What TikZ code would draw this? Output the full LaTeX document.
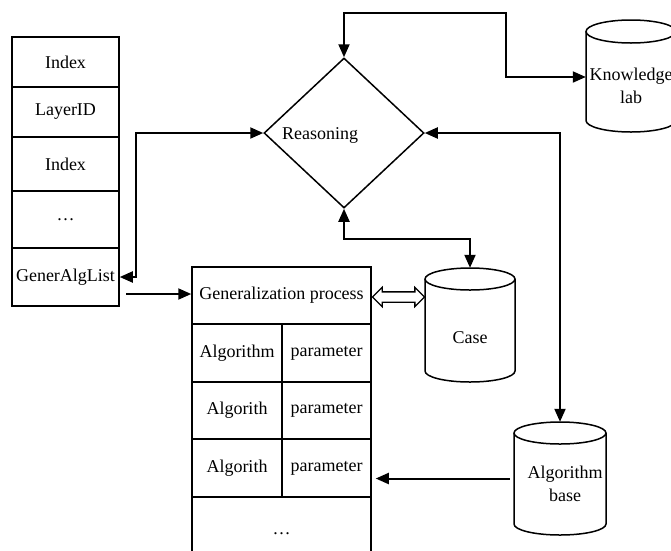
\documentclass[tikz,border=0pt]{standalone}
\usepackage{fontspec}
\setmainfont{Liberation Serif}
\usetikzlibrary{arrows.meta,shapes.geometric,shapes.arrows}
\tikzset{
  border/.style={draw=black, line width=1.5pt},
  cell/.style={border, rectangle, inner sep=0pt, font=\fontsize{18}{23}\selectfont},
  conn/.style={draw=black, line width=2pt, >={Triangle[length=13pt,width=11pt]}},
  txt/.style={inner sep=0pt, font=\fontsize{18}{23}\selectfont, align=center},
  ghost/.style={inner sep=0pt, rectangle},
}
\begin{document}
\begin{tikzpicture}[x=1pt,y=-1pt]
\useasboundingbox (0,0) rectangle (671,550);
\clip (0,0) rectangle (671,550);
\fill[white] (0,0) rectangle (671,550);

% left column
\node[cell, minimum width=107pt, minimum height=50pt] (idx1) at (65.5,62) {Index};
\node[cell, minimum width=107pt, minimum height=50pt] (lay) at (65.5,112) {LayerID};
\node[cell, minimum width=107pt, minimum height=54pt] (idx2) at (65.5,164) {Index};
\node[cell, minimum width=107pt, minimum height=57pt] (dots1) at (65.5,219.5) {…};
\node[cell, minimum width=107pt, minimum height=58pt] (gal) at (65.5,277) {GenerAlgList};

% reasoning diamond
\node[diamond, border, minimum width=160pt, minimum height=150pt, inner sep=0pt] (R) at (344,133) {};
\node[txt] (Rt) at (320,135) {Reasoning};

% generalization table
\node[cell, minimum width=179pt, minimum height=57pt] (gp) at (281.5,295.5) {Generalization process};
\node[cell, minimum width=90pt, minimum height=58pt] (a1) at (237,353) {Algorithm};
\node[cell, minimum width=89pt, minimum height=58pt] (p1) at (326.5,353) {parameter};
\node[cell, minimum width=90pt, minimum height=57pt] (a2) at (237,410.5) {Algorith};
\node[cell, minimum width=89pt, minimum height=57pt] (p2) at (326.5,410.5) {parameter};
\node[cell, minimum width=90pt, minimum height=58pt] (a3) at (237,468) {Algorith};
\node[cell, minimum width=89pt, minimum height=58pt] (p3) at (326.5,468) {parameter};
\node[cell, minimum width=179pt, minimum height=73pt] (dots2) at (281.5,533.5) {…};

% Knowledge lab cylinder
\node[ghost, minimum width=90pt, minimum height=112pt] (kl) at (631,76) {};
\draw[border] (586,31.5) -- (586,120.5) arc[start angle=180, end angle=360, x radius=45pt, y radius=11.5pt] -- (676,31.5);
\draw[border] (631,31.5) ellipse[x radius=45pt, y radius=11.5pt];
\node[txt] (klt) at (631,86) {Knowledge\\lab};

% Case cylinder
\node[ghost, minimum width=90pt, minimum height=114pt] (case) at (470,325) {};
\draw[border] (425,279) -- (425,371) arc[start angle=180, end angle=360, x radius=45pt, y radius=11pt] -- (515,279);
\draw[border] (470,279) ellipse[x radius=45pt, y radius=11pt];
\node[txt] (caset) at (470,338) {Case};

% Algorithm base cylinder
\node[ghost, minimum width=92pt, minimum height=113pt] (alg) at (560,478.5) {};
\draw[border] (514,433) -- (514,524) arc[start angle=180, end angle=360, x radius=46pt, y radius=11pt] -- (606,433);
\draw[border] (560,433) ellipse[x radius=46pt, y radius=11pt];
\node[txt] (algt) at (565,484) {Algorithm\\base};

% double hollow arrow between generalization process and case
\node[double arrow, draw=black, line width=1.3pt, fill=white, inner xsep=0pt, inner ysep=4.5pt,
      minimum height=52pt, double arrow head extend=4.5pt] (dbl) at (398.5,297) {};

% connectors
\coordinate (k1) at (506,13);
\coordinate (k2) at (506,77);
\draw[conn,<->] (R.north) |- (k1) -- (k2) -- (k2 -| kl.west);

\coordinate (l1) at (136,133);
\draw[conn,<->] (gal.east) -| (l1) -- (R.west);

\coordinate (g1) at (126,294);
\draw[conn,->] (g1) -- (g1 -| gp.west);

\coordinate (c1) at (344,239);
\draw[conn,<->] (R.south) -- (c1) -| (case.north);

\draw[conn,<->] (R.east) -| (alg.north);

\draw[conn,->, shorten <=4pt, shorten >=4pt] (alg.west) -- (alg.west -| p3.east);
\end{tikzpicture}
\end{document}
